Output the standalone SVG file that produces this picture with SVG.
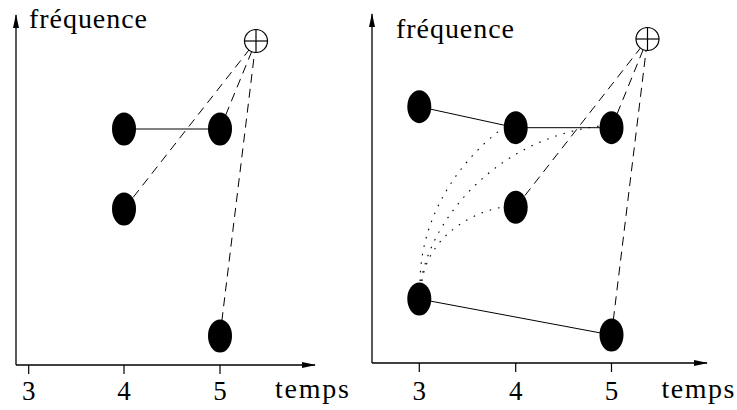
<svg xmlns="http://www.w3.org/2000/svg" width="737" height="410" viewBox="0 0 737 410">
<style>
.lab{font-size:28px;font-family:"Liberation Serif",serif;fill:#000}
.dig{font-size:27px;text-anchor:middle;font-family:"Liberation Serif",serif;fill:#000}
.axis{stroke:#000;stroke-width:1.3;fill:none}
.tick{stroke:#000;stroke-width:1.2}
.solid{stroke:#000;stroke-width:1;fill:none}
.dash{stroke:#000;stroke-width:1;fill:none;stroke-dasharray:9 6}
.dot{stroke:#000;stroke-width:1.1;fill:none;stroke-dasharray:1.6 7}
.node{fill:#000}
.oplus circle{fill:#fff;stroke:#000;stroke-width:1.2}
.oplus line{stroke:#000;stroke-width:1.2}
</style>
<defs>
<marker id="ah" viewBox="0 0 14 8" refX="13" refY="4" markerWidth="14" markerHeight="8" markerUnits="userSpaceOnUse" orient="auto">
<path d="M0,1 L14,4 L0,7 Z" fill="#000"/>
</marker>
</defs>

<!-- LEFT PANEL -->
<g id="left-axes">
<line class="axis" x1="16" y1="365" x2="16" y2="15" marker-end="url(#ah)"/>
<line class="axis" x1="16" y1="365" x2="315" y2="365" marker-end="url(#ah)"/>
<line class="tick" x1="28.7" y1="365" x2="28.7" y2="374"/>
<line class="tick" x1="124" y1="365" x2="124" y2="374"/>
<line class="tick" x1="220" y1="365" x2="220" y2="374"/>
<text class="dig" x="28.7" y="400">3</text>
<text class="dig" x="124" y="400">4</text>
<text class="dig" x="220" y="400">5</text>
<text class="lab" x="275" y="398" textLength="74" lengthAdjust="spacing">temps</text>
<text class="lab" x="29" y="27.5" textLength="118" lengthAdjust="spacing">fréquence</text>
</g>
<g id="left-connectors">
<line class="solid" x1="124" y1="129" x2="220" y2="129"/>
<line class="dash" x1="124" y1="209" x2="256" y2="41"/>
<line class="dash" x1="220" y1="129" x2="256" y2="41"/>
<line class="dash" x1="220" y1="336" x2="256" y2="41"/>
</g>
<g id="left-oplus" class="oplus">
<circle cx="256" cy="41" r="11.5"/>
<line x1="244.5" y1="41" x2="267.5" y2="41"/>
<line x1="256" y1="29.5" x2="256" y2="52.5"/>
</g>
<g id="L-n4a"><ellipse class="node" cx="124" cy="129" rx="12" ry="16.5"/></g>
<g id="L-n5a"><ellipse class="node" cx="220" cy="129" rx="12" ry="16.5"/></g>
<g id="L-n4b"><ellipse class="node" cx="124" cy="209" rx="12" ry="16.5"/></g>
<g id="L-n5b"><ellipse class="node" cx="220" cy="336" rx="12" ry="16.5"/></g>

<!-- RIGHT PANEL -->
<g id="right-axes">
<line class="axis" x1="372" y1="363" x2="372" y2="14" marker-end="url(#ah)"/>
<line class="axis" x1="372" y1="363" x2="707" y2="363" marker-end="url(#ah)"/>
<line class="tick" x1="419.3" y1="363" x2="419.3" y2="372"/>
<line class="tick" x1="515.7" y1="363" x2="515.7" y2="372"/>
<line class="tick" x1="611.5" y1="363" x2="611.5" y2="372"/>
<text class="dig" x="419.3" y="400">3</text>
<text class="dig" x="515.7" y="400">4</text>
<text class="dig" x="611.5" y="400">5</text>
<text class="lab" x="661.5" y="398" textLength="73" lengthAdjust="spacing">temps</text>
<text class="lab" x="396" y="37.5" textLength="118" lengthAdjust="spacing">fréquence</text>
</g>
<g id="right-connectors">
<line class="solid" x1="419.3" y1="106.7" x2="515.7" y2="127.7"/>
<line class="solid" x1="515.7" y1="127.7" x2="611.5" y2="127.7"/>
<line class="solid" x1="419.3" y1="299" x2="611.5" y2="335"/>
<line class="dash" x1="515.7" y1="207.3" x2="647.5" y2="39"/>
<line class="dash" x1="611.5" y1="127.7" x2="647.5" y2="39"/>
<line class="dash" x1="611.5" y1="335" x2="647.5" y2="39"/>
<path class="dot" d="M420,281 C421,215 460,160 503,128"/>
<path class="dot" d="M421,281 C430,225 490,140 600,126"/>
<path class="dot" d="M422,281 C427,245 460,215 503,207"/>
</g>
<g id="right-oplus" class="oplus">
<circle cx="647.5" cy="39" r="11.5"/>
<line x1="636" y1="39" x2="659" y2="39"/>
<line x1="647.5" y1="27.5" x2="647.5" y2="50.5"/>
</g>
<g id="R-n3a"><ellipse class="node" cx="419.3" cy="106.7" rx="12" ry="16.5"/></g>
<g id="R-n4a"><ellipse class="node" cx="515.7" cy="127.7" rx="12" ry="16.5"/></g>
<g id="R-n5a"><ellipse class="node" cx="611.5" cy="127.7" rx="12" ry="16.5"/></g>
<g id="R-n4b"><ellipse class="node" cx="515.7" cy="207.3" rx="12" ry="16.5"/></g>
<g id="R-n3b"><ellipse class="node" cx="419.3" cy="299" rx="12" ry="16.5"/></g>
<g id="R-n5b"><ellipse class="node" cx="611.5" cy="335" rx="12" ry="16.5"/></g>
</svg>
